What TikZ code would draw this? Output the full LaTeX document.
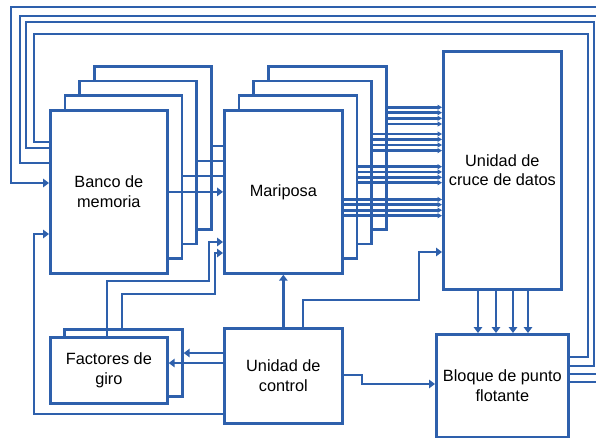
\documentclass[tikz,border=0pt]{standalone}
\usepackage{fontspec}
\setmainfont{Liberation Sans}
\usetikzlibrary{arrows.meta}
\definecolor{azul}{RGB}{46,96,172}
\begin{document}
\begin{tikzpicture}[x=1pt,y=-1pt,
  box/.style={draw=azul, fill=white, line width=2.7pt, inner sep=0pt,
    anchor=north west, align=center, text=black,
    font=\fontsize{16.3}{19.5}\selectfont},
  wire/.style={draw=azul, line width=2.7pt},
  arr/.style={wire, -{Triangle[length=6pt,width=8.5pt]}},
  sarr/.style={wire, -{Triangle[length=4.5pt,width=5pt]}}]
\useasboundingbox (0,0) rectangle (596,437);
\clip (0,0) rectangle (596,437);

% memory bank stack (back to front)
\node[box, minimum width=117pt, minimum height=163pt] (banco3) at (93.1,64.9) {};
\node[box, minimum width=117pt, minimum height=163pt] (banco2) at (78.4,79.6) {};
\node[box, minimum width=117pt, minimum height=163pt] (banco1) at (63.7,94.3) {};
\node[box, minimum width=117pt, minimum height=163pt] (banco) at (49,109) {Banco de\\memoria};

% butterfly stack (back to front)
\node[box, minimum width=118pt, minimum height=163pt] (mari3) at (267.1,64.9) {};
\node[box, minimum width=118pt, minimum height=163pt] (mari2) at (252.4,79.6) {};
\node[box, minimum width=118pt, minimum height=163pt] (mari1) at (237.7,94.3) {};
\node[box, minimum width=118pt, minimum height=163pt] (mari) at (223,109) {Mariposa};

% crossbar, floating point, control, twiddle factors
\node[box, minimum width=118pt, minimum height=238pt] (cruce) at (442,50) {Unidad de\\cruce de datos};
\node[box, minimum width=132pt, minimum height=102.5pt] (bloque) at (435,333) {Bloque de punto\\flotante};
\node[box, minimum width=118pt, minimum height=95pt] (ctrl) at (223,327) {Unidad de\\control};
\node[box, minimum width=118pt, minimum height=67pt] (fact1) at (63,328) {};
\node[box, minimum width=117pt, minimum height=66pt] (fact) at (49,336) {Factores de\\giro};

% memory bank -> butterfly
\draw[arr] (banco.east) -- (mari.west);
\draw[wire] (banco1.east |- 0,176) -- (mari.west |- 0,176);
\draw[wire] (banco2.east |- 0,161) -- (mari.west |- 0,161);
\draw[wire] (banco3.east |- 0,146) -- (mari.west |- 0,146);

% butterfly -> crossbar
\foreach \y in {107.3,112.7,118.3,124}
  \draw[sarr] (mari3.east |- 0,\y) -- (cruce.west |- 0,\y);
\foreach \y in {134,139.4,145,150.6}
  \draw[sarr] (mari2.east |- 0,\y) -- (cruce.west |- 0,\y);
\foreach \y in {166.7,171.9,177.3,182.7}
  \draw[sarr] (mari1.east |- 0,\y) -- (cruce.west |- 0,\y);
\foreach \y in {199.5,204.7,210.2,215.7}
  \draw[sarr] (mari.east |- 0,\y) -- (cruce.west |- 0,\y);

% crossbar -> floating point
\foreach \x in {478,496,513,528}
  \draw[arr] (cruce.south -| \x,0) -- (bloque.north -| \x,0);

% floating point -> memory bank feedback
\draw[wire] (bloque.east |- 0,357) -| (588,34) -| (34,142) -- (banco.west |- 0,142);
\draw[wire] (bloque.east |- 0,366) -| (594,22) -| (26,148) -- (banco.west |- 0,148);
\draw[wire] (bloque.east |- 0,374) -| (600,16) -| (20,163) -- (banco.west |- 0,163);
\draw[arr] (bloque.east |- 0,382) -| (606,7) -| (11,183) -- (banco.west |- 0,183);

% control unit connections
\draw[arr] (ctrl.west |- 0,414) -| (34,234) -- (banco.west |- 0,234);
\draw[arr] (ctrl.west |- 0,353) -- (fact1.east |- 0,353);
\draw[arr] (ctrl.west |- 0,363) -- (fact.east |- 0,363);
\draw[arr] (ctrl.north) -- (mari.south);
\draw[arr] (ctrl.north -| 303,0) |- (419,300) |- (cruce.west |- 0,252);
\draw[arr] (ctrl.east |- 0,375) -| (362,384) -- (bloque.west |- 0,384);

% twiddle factors -> butterfly
\draw[arr] (fact.north -| 107,0) |- (209,281) |- (mari.west |- 0,242);
\draw[arr] (fact1.north -| 122,0) |- (215,294) |- (mari.west |- 0,253);
\end{tikzpicture}
\end{document}
